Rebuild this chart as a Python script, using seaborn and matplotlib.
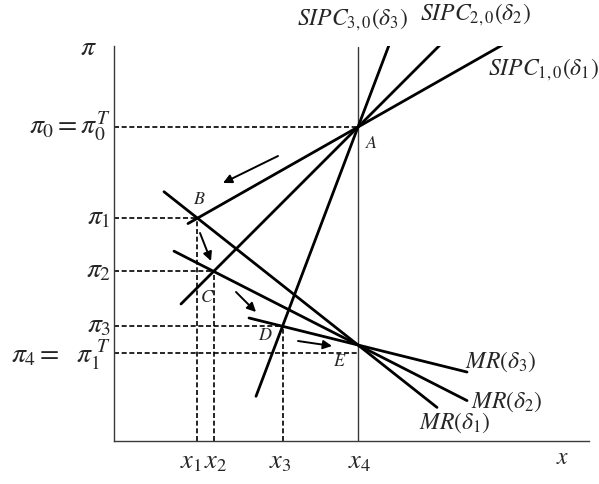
import numpy as np
import pandas as pd
import matplotlib
matplotlib.use("Agg")
import matplotlib.pyplot as plt
import seaborn as sns

# --- model values (x: output, pi: inflation) ---
x4 = 4.88            # long-run output level
pi0 = 6.28           # initial inflation / target pi0^T
pi_E = 1.92          # common crossing point of the MR lines
pi4 = 1.76           # new target pi1^T

sipc_names = [r"$SIPC_{1,0}(\delta_1)$", r"$SIPC_{2,0}(\delta_2)$", r"$SIPC_{3,0}(\delta_3)$"]
sipc_slopes = [0.568, 1.0, 2.64]
sipc_x_lo = [1.48, 1.34, 2.84]
sipc_x_hi = [8.14, 6.78, 5.52]

mr_names = [r"$MR(\delta_1)$", r"$MR(\delta_2)$", r"$MR(\delta_3)$"]
mr_slopes = [-0.79, -0.51, -0.248]
mr_x_lo = [1.0, 1.2, 2.7]
mr_x_hi = [6.46, 7.06, 7.06]

x_tick_labels = [r"$x_1$", r"$x_2$", r"$x_3$", r"$x_4$"]
pi_tick_labels = [r"$\pi_1$", r"$\pi_2$", r"$\pi_3$"]
point_labels = ["B", "C", "D"]

# --- build line table ---
rows = []
for i in range(3):
    for xv in (sipc_x_lo[i], sipc_x_hi[i]):
        rows.append(("SIPC%d" % (i + 1), xv, pi0 + sipc_slopes[i] * (xv - x4)))
    for xv in (mr_x_lo[i], mr_x_hi[i]):
        rows.append(("MR%d" % (i + 1), xv, pi_E + mr_slopes[i] * (xv - x4)))
lines = pd.DataFrame(rows, columns=["curve", "x", "pi"])

# intersections of SIPC_i and MR_i: points B, C, D
ix, ipi = [], []
for i in range(3):
    d = (pi_E - pi0) / (sipc_slopes[i] - mr_slopes[i])
    ix.append(x4 + d)
    ipi.append(pi0 + sipc_slopes[i] * d)

sns.set_theme(style="white")
plt.rcParams["mathtext.fontset"] = "stix"
plt.rcParams["font.family"] = ["Liberation Serif", "DejaVu Serif"]

W, H = 599, 484
fig = plt.figure(figsize=(W / 100, H / 100), dpi=100)
ax = fig.add_axes([114 / W, (H - 441) / H, 475 / W, 395 / H])
ax.set_xlim(0, 9.5)
ax.set_ylim(0, 7.9)
ax.set_xticks([])
ax.set_yticks([])
for s in ("top", "right"):
    ax.spines[s].set_visible(False)
for s in ("left", "bottom"):
    ax.spines[s].set_color("#3a3a3a")
    ax.spines[s].set_linewidth(1.0)

# vertical long-run line at x4
ax.plot([x4, x4], [0, 7.88], color="#3a3a3a", lw=1.0)

# dashed guides
dash = dict(color="black", lw=1.2, linestyle=(0, (3, 1.6)))
ax.plot([0, x4], [pi0, pi0], **dash)
ax.plot([0, x4], [pi4, pi4], **dash)
for i in range(3):
    ax.plot([0, ix[i]], [ipi[i], ipi[i]], **dash)
    ax.plot([ix[i], ix[i]], [0, ipi[i]], **dash)

# thick curves
sns.lineplot(data=lines, x="x", y="pi", units="curve", estimator=None,
             color="black", lw=2.0, ax=ax, legend=False)
ax.set_xlabel("")
ax.set_ylabel("")

# labels
big = 20
ax.text(-0.52, 7.86, r"$\pi$", fontsize=big, ha="center", va="center", clip_on=False)
ax.text(-0.06, pi0, r"$\pi_0 = \pi_0^T$", fontsize=big, ha="right", va="center")
for i in range(3):
    ax.text(-0.06, ipi[i], pi_tick_labels[i], fontsize=big, ha="right", va="center")
ax.text(-0.06, pi4 - 0.04, r"$\pi_{\mathit{4}} =\ \ \pi_{\mathit{1}}^{\ T}$", fontsize=big,
        ha="right", va="center")

x_label_shift = [-0.14, 0.05, -0.04, 0.04]
for xv, dx, lab in zip(ix + [x4], x_label_shift, x_tick_labels):
    ax.text(xv + dx, -0.44, lab, fontsize=19, ha="center", va="center")
ax.text(8.98, -0.36, r"$x$", fontsize=17, ha="center", va="center")

small = 13
ax.text(5.16, 5.96, r"$A$", fontsize=small, ha="center", va="center")
for (px, py), lab in zip([(1.7, 4.82), (1.86, 2.88), (3.02, 2.12)], point_labels):
    ax.text(px, py, r"$%s$" % lab, fontsize=small, ha="center", va="center")
ax.text(4.52, 1.58, r"$E$", fontsize=small, ha="center", va="center")

mid = 17
ax.text(8.58, 7.42, sipc_names[0], fontsize=mid, ha="center", va="center", clip_on=False)
ax.text(7.22, 8.52, sipc_names[1], fontsize=mid, ha="center", va="center", clip_on=False)
ax.text(4.76, 8.42, sipc_names[2], fontsize=mid, ha="center", va="center", clip_on=False)
ax.text(6.1, 0.36, mr_names[0], fontsize=mid, ha="left", va="center")
ax.text(7.14, 0.78, mr_names[1], fontsize=mid, ha="left", va="center")
ax.text(7.02, 1.58, mr_names[2], fontsize=mid, ha="left", va="center")

# adjustment arrows
arrows = [((3.28, 5.70), (2.18, 5.16)),
          ((1.72, 4.16), (1.94, 3.60)),
          ((2.44, 2.98), (2.84, 2.58)),
          ((3.68, 2.00), (4.36, 1.90))]
for (x0, y0), (x1, y1) in arrows:
    ax.annotate("", xy=(x1, y1), xytext=(x0, y0),
                arrowprops=dict(arrowstyle="-|>", color="black", lw=1.4,
                                mutation_scale=13, shrinkA=0, shrinkB=0))

fig.savefig("out.png", dpi=100, facecolor="white")
